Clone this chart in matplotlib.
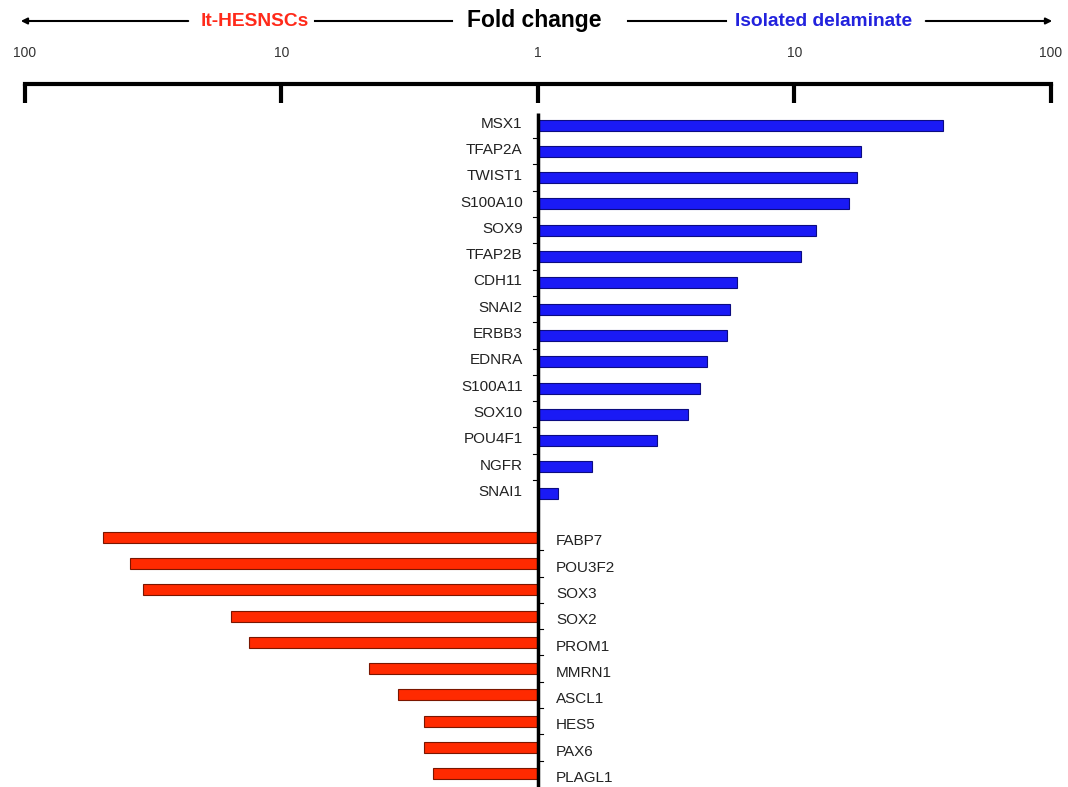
import matplotlib

matplotlib.use("Agg")
import matplotlib.pyplot as plt
from matplotlib.lines import Line2D
from matplotlib.patches import FancyArrowPatch
import numpy as np

# fold change, higher in isolated delaminate (blue, right side)
UP_GENES = ["MSX1", "TFAP2A", "TWIST1", "S100A10", "SOX9", "TFAP2B", "CDH11", "SNAI2",
            "ERBB3", "EDNRA", "S100A11", "SOX10", "POU4F1", "NGFR", "SNAI1"]
UP_FOLD = [37.9, 18.1, 17.5, 16.3, 12.1, 10.6, 5.98, 5.61, 5.47, 4.57, 4.28, 3.85, 2.90, 1.63, 1.20]

# fold change, higher in lt-HESNSCs (red, left side)
DOWN_GENES = ["FABP7", "POU3F2", "SOX3", "SOX2", "PROM1", "MMRN1", "ASCL1", "HES5", "PAX6", "PLAGL1"]
DOWN_FOLD = [49.4, 38.9, 34.5, 15.7, 13.4, 4.55, 3.52, 2.79, 2.78, 2.57]

TICK_POS = [-2, -1, 0, 1, 2]
TICK_LABELS = ["100", "10", "1", "10", "100"]

BLUE, BLUE_EDGE = "#1a1af5", "#0c0c80"
RED, RED_EDGE = "#ff2a00", "#7a1600"

W, H = 1068, 787
plt.rcParams["font.family"] = ["Liberation Sans", "DejaVu Sans"]

fig = plt.figure(figsize=(W / 100, H / 100), dpi=100)
ax = fig.add_axes([24.8 / W, 0, (1051 - 24.8) / W, 1 - 84 / H])

up_y = np.arange(len(UP_GENES))
gap = 1.67  # space between the two gene groups, in rows
down_y = len(UP_GENES) - 1 + gap + np.arange(len(DOWN_GENES))

ax.barh(up_y, np.log10(UP_FOLD), height=0.42, color=BLUE, edgecolor=BLUE_EDGE, linewidth=0.8)
ax.barh(down_y, -np.log10(DOWN_FOLD), height=0.42, color=RED, edgecolor=RED_EDGE, linewidth=0.8)

ax.set_xlim(-2, 2)
ax.set_ylim(25.17, -1.56)
ax.set_yticks([])
ax.set_xticks(TICK_POS, TICK_LABELS)
ax.tick_params(axis="x", top=True, bottom=False, labeltop=True, labelbottom=False,
               direction="in", length=14, width=3, pad=17, labelsize=10, labelcolor="#333333")
for s in ["left", "right", "bottom"]:
    ax.spines[s].set_visible(False)
ax.spines["top"].set_linewidth(3)

# central axis at fold change = 1
ax.plot([0, 0], [-0.456, 25.17], color="black", lw=2.5, clip_on=False, solid_capstyle="butt")
for y in up_y[:-1] + 0.5:
    ax.plot([-0.02, 0], [y, y], color="black", lw=0.8)
for y in down_y[:-1] + 0.5:
    ax.plot([0, 0.02], [y, y], color="black", lw=0.8)

for g, y in zip(UP_GENES, up_y):
    ax.annotate(g, (0, y), xytext=(-11, 1), textcoords="offset points",
                ha="right", va="center", fontsize=11, color="#222222")
for g, y in zip(DOWN_GENES, down_y):
    ax.annotate(g, (0, y), xytext=(13, -3), textcoords="offset points",
                ha="left", va="center", fontsize=11, color="#222222")

# header with arrows
yh = 1 - 21 / H
fig.text(534 / W, yh, "Fold change", ha="center", va="center", fontsize=16.5, fontweight="bold")
fig.text(255 / W, yh, "lt-HESNSCs", ha="center", va="center", fontsize=13.8,
         fontweight="bold", color="#ff2a1a")
fig.text(824 / W, yh, "Isolated delaminate", ha="center", va="center", fontsize=13.8,
         fontweight="bold", color="#2222dd")
fig.add_artist(FancyArrowPatch((191 / W, yh), (18 / W, yh), transform=fig.transFigure,
                               arrowstyle="-|>", mutation_scale=9, lw=1.5, color="black"))
fig.add_artist(FancyArrowPatch((923 / W, yh), (1055 / W, yh), transform=fig.transFigure,
                               arrowstyle="-|>", mutation_scale=9, lw=1.5, color="black"))
fig.add_artist(Line2D([315 / W, 452 / W], [yh, yh], transform=fig.transFigure, lw=1.5, color="black"))
fig.add_artist(Line2D([628 / W, 726 / W], [yh, yh], transform=fig.transFigure, lw=1.5, color="black"))

fig.savefig("out.png", dpi=100)
